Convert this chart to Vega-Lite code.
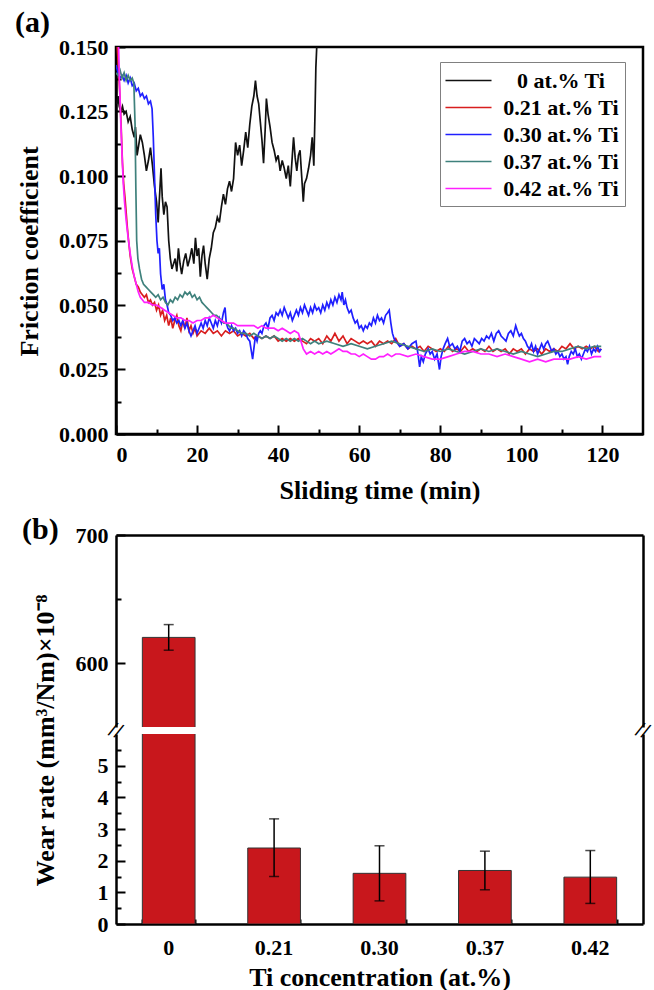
{
"$schema": "https://vega.github.io/schema/vega-lite/v6.json",
"padding": {"left": 13, "top": 6, "right": 8, "bottom": 0},
"config": {
  "font": "Liberation Serif",
  "view": {"stroke": "black", "strokeWidth": 2.5},
  "axis": {"labelFont": "Liberation Serif", "labelFontWeight": "bold", "labelFontSize": 22, "labelColor": "black",
           "titleFont": "Liberation Serif", "titleFontWeight": "bold", "titleFontSize": 26, "titleColor": "black",
           "domainColor": "black", "domainWidth": 2.5, "tickColor": "black", "tickWidth": 2, "grid": false, "zindex": 1},
  "title": {"font": "Liberation Serif", "fontWeight": "bold", "fontSize": 30, "color": "black"}
},
"datasets": {
"wear": [
 {"c": "0", "w": 620, "lo": 610, "hi": 630},
 {"c": "0.21", "w": 2.4, "lo": 1.5, "hi": 3.32},
 {"c": "0.30", "w": 1.6, "lo": 0.73, "hi": 2.47},
 {"c": "0.37", "w": 1.69, "lo": 1.08, "hi": 2.3},
 {"c": "0.42", "w": 1.48, "lo": 0.65, "hi": 2.32}
],
"fric": [
{"s":"0","t":0.2,"f":0.128},{"s":"0","t":0.5,"f":0.131},{"s":"0","t":0.8,"f":0.127},{"s":"0","t":1.2,"f":0.125},{"s":"0","t":1.6,"f":0.127},{"s":"0","t":2.0,"f":0.124},{"s":"0","t":2.5,"f":0.125},{"s":"0","t":3.0,"f":0.121},{"s":"0","t":3.5,"f":0.123},{"s":"0","t":4.0,"f":0.118},{"s":"0","t":4.5,"f":0.115},{"s":"0","t":4.8,"f":0.119},{"s":"0","t":5.2,"f":0.108},{"s":"0","t":5.6,"f":0.112},{"s":"0","t":6.0,"f":0.116},{"s":"0","t":6.5,"f":0.113},{"s":"0","t":7.0,"f":0.108},{"s":"0","t":7.5,"f":0.102},{"s":"0","t":8.0,"f":0.106},{"s":"0","t":8.5,"f":0.111},{"s":"0","t":9.0,"f":0.104},{"s":"0","t":9.5,"f":0.096},{"s":"0","t":10.0,"f":0.090},{"s":"0","t":10.4,"f":0.082},{"s":"0","t":10.8,"f":0.094},{"s":"0","t":11.1,"f":0.103},{"s":"0","t":11.4,"f":0.092},{"s":"0","t":11.8,"f":0.085},{"s":"0","t":12.2,"f":0.090},{"s":"0","t":12.6,"f":0.088},{"s":"0","t":13.0,"f":0.075},{"s":"0","t":13.4,"f":0.068},{"s":"0","t":13.8,"f":0.064},{"s":"0","t":14.2,"f":0.066},{"s":"0","t":14.6,"f":0.068},{"s":"0","t":15.0,"f":0.063},{"s":"0","t":15.4,"f":0.072},{"s":"0","t":15.8,"f":0.066},{"s":"0","t":16.2,"f":0.062},{"s":"0","t":16.7,"f":0.067},{"s":"0","t":17.2,"f":0.070},{"s":"0","t":17.7,"f":0.065},{"s":"0","t":18.2,"f":0.068},{"s":"0","t":18.7,"f":0.072},{"s":"0","t":19.2,"f":0.066},{"s":"0","t":19.6,"f":0.076},{"s":"0","t":20.0,"f":0.069},{"s":"0","t":20.4,"f":0.072},{"s":"0","t":20.8,"f":0.061},{"s":"0","t":21.2,"f":0.069},{"s":"0","t":21.6,"f":0.073},{"s":"0","t":22.0,"f":0.066},{"s":"0","t":22.5,"f":0.060},{"s":"0","t":23.0,"f":0.068},{"s":"0","t":23.5,"f":0.072},{"s":"0","t":24.0,"f":0.078},{"s":"0","t":24.5,"f":0.080},{"s":"0","t":25.0,"f":0.084},{"s":"0","t":25.5,"f":0.082},{"s":"0","t":26.0,"f":0.088},{"s":"0","t":26.5,"f":0.093},{"s":"0","t":27.0,"f":0.089},{"s":"0","t":27.5,"f":0.095},{"s":"0","t":28.0,"f":0.098},{"s":"0","t":28.5,"f":0.094},{"s":"0","t":29.0,"f":0.099},{"s":"0","t":29.5,"f":0.113},{"s":"0","t":30.0,"f":0.108},{"s":"0","t":30.5,"f":0.112},{"s":"0","t":31.0,"f":0.104},{"s":"0","t":31.5,"f":0.110},{"s":"0","t":32.0,"f":0.117},{"s":"0","t":32.5,"f":0.111},{"s":"0","t":33.0,"f":0.120},{"s":"0","t":33.5,"f":0.127},{"s":"0","t":34.0,"f":0.131},{"s":"0","t":34.4,"f":0.137},{"s":"0","t":34.8,"f":0.131},{"s":"0","t":35.2,"f":0.128},{"s":"0","t":35.6,"f":0.121},{"s":"0","t":36.0,"f":0.114},{"s":"0","t":36.4,"f":0.105},{"s":"0","t":36.8,"f":0.118},{"s":"0","t":37.1,"f":0.130},{"s":"0","t":37.5,"f":0.124},{"s":"0","t":38.0,"f":0.119},{"s":"0","t":38.5,"f":0.113},{"s":"0","t":39.0,"f":0.110},{"s":"0","t":39.5,"f":0.106},{"s":"0","t":40.0,"f":0.108},{"s":"0","t":40.5,"f":0.102},{"s":"0","t":41.0,"f":0.106},{"s":"0","t":41.5,"f":0.103},{"s":"0","t":42.0,"f":0.099},{"s":"0","t":42.5,"f":0.104},{"s":"0","t":43.0,"f":0.096},{"s":"0","t":43.5,"f":0.108},{"s":"0","t":43.8,"f":0.115},{"s":"0","t":44.2,"f":0.107},{"s":"0","t":44.6,"f":0.102},{"s":"0","t":45.0,"f":0.108},{"s":"0","t":45.4,"f":0.110},{"s":"0","t":45.8,"f":0.100},{"s":"0","t":46.2,"f":0.090},{"s":"0","t":46.5,"f":0.097},{"s":"0","t":47.0,"f":0.099},{"s":"0","t":47.5,"f":0.103},{"s":"0","t":48.0,"f":0.108},{"s":"0","t":48.4,"f":0.115},{"s":"0","t":48.8,"f":0.104},{"s":"0","t":49.1,"f":0.125},{"s":"0","t":49.3,"f":0.142},{"s":"0","t":49.6,"f":0.153},
{"s":"0.21","t":0.3,"f":0.150},{"s":"0.21","t":0.6,"f":0.142},{"s":"0.21","t":1.0,"f":0.130},{"s":"0.21","t":1.3,"f":0.118},{"s":"0.21","t":1.6,"f":0.105},{"s":"0.21","t":1.9,"f":0.097},{"s":"0.21","t":2.2,"f":0.092},{"s":"0.21","t":2.5,"f":0.086},{"s":"0.21","t":2.8,"f":0.080},{"s":"0.21","t":3.1,"f":0.075},{"s":"0.21","t":3.5,"f":0.069},{"s":"0.21","t":4.0,"f":0.064},{"s":"0.21","t":4.5,"f":0.061},{"s":"0.21","t":5.0,"f":0.058},{"s":"0.21","t":5.5,"f":0.057},{"s":"0.21","t":6.0,"f":0.055},{"s":"0.21","t":6.5,"f":0.054},{"s":"0.21","t":7.0,"f":0.053},{"s":"0.21","t":7.5,"f":0.054},{"s":"0.21","t":8.0,"f":0.051},{"s":"0.21","t":8.5,"f":0.052},{"s":"0.21","t":9.0,"f":0.050},{"s":"0.21","t":9.5,"f":0.051},{"s":"0.21","t":10.0,"f":0.048},{"s":"0.21","t":10.5,"f":0.050},{"s":"0.21","t":11.0,"f":0.046},{"s":"0.21","t":11.5,"f":0.048},{"s":"0.21","t":12.0,"f":0.044},{"s":"0.21","t":12.5,"f":0.046},{"s":"0.21","t":13.0,"f":0.042},{"s":"0.21","t":13.5,"f":0.045},{"s":"0.21","t":14.0,"f":0.041},{"s":"0.21","t":14.5,"f":0.044},{"s":"0.21","t":15.0,"f":0.046},{"s":"0.21","t":15.5,"f":0.042},{"s":"0.21","t":16.0,"f":0.040},{"s":"0.21","t":16.5,"f":0.044},{"s":"0.21","t":17.0,"f":0.041},{"s":"0.21","t":17.5,"f":0.045},{"s":"0.21","t":18.0,"f":0.040},{"s":"0.21","t":18.5,"f":0.042},{"s":"0.21","t":19.0,"f":0.039},{"s":"0.21","t":19.5,"f":0.041},{"s":"0.21","t":20.0,"f":0.038},{"s":"0.21","t":21.0,"f":0.040},{"s":"0.21","t":22.0,"f":0.039},{"s":"0.21","t":23.0,"f":0.041},{"s":"0.21","t":24.0,"f":0.039},{"s":"0.21","t":25.0,"f":0.040},{"s":"0.21","t":26.0,"f":0.038},{"s":"0.21","t":27.0,"f":0.040},{"s":"0.21","t":28.0,"f":0.039},{"s":"0.21","t":29.0,"f":0.040},{"s":"0.21","t":30.0,"f":0.038},{"s":"0.21","t":31.0,"f":0.039},{"s":"0.21","t":32.0,"f":0.038},{"s":"0.21","t":33.0,"f":0.039},{"s":"0.21","t":34.0,"f":0.037},{"s":"0.21","t":35.0,"f":0.038},{"s":"0.21","t":36.0,"f":0.037},{"s":"0.21","t":37.0,"f":0.038},{"s":"0.21","t":38.0,"f":0.037},{"s":"0.21","t":39.0,"f":0.038},{"s":"0.21","t":40.0,"f":0.036},{"s":"0.21","t":41.0,"f":0.037},{"s":"0.21","t":42.0,"f":0.036},{"s":"0.21","t":43.0,"f":0.037},{"s":"0.21","t":44.0,"f":0.036},{"s":"0.21","t":45.0,"f":0.037},{"s":"0.21","t":46.0,"f":0.036},{"s":"0.21","t":47.0,"f":0.035},{"s":"0.21","t":48.0,"f":0.037},{"s":"0.21","t":49.0,"f":0.036},{"s":"0.21","t":50.0,"f":0.037},{"s":"0.21","t":51.0,"f":0.035},{"s":"0.21","t":52.0,"f":0.038},{"s":"0.21","t":53.0,"f":0.036},{"s":"0.21","t":54.0,"f":0.039},{"s":"0.21","t":55.0,"f":0.036},{"s":"0.21","t":56.0,"f":0.038},{"s":"0.21","t":57.0,"f":0.035},{"s":"0.21","t":58.0,"f":0.037},{"s":"0.21","t":59.0,"f":0.036},{"s":"0.21","t":60.0,"f":0.035},{"s":"0.21","t":61.0,"f":0.036},{"s":"0.21","t":62.0,"f":0.035},{"s":"0.21","t":63.0,"f":0.036},{"s":"0.21","t":64.0,"f":0.034},{"s":"0.21","t":65.0,"f":0.036},{"s":"0.21","t":66.0,"f":0.035},{"s":"0.21","t":67.0,"f":0.036},{"s":"0.21","t":68.0,"f":0.035},{"s":"0.21","t":69.0,"f":0.037},{"s":"0.21","t":70.0,"f":0.034},{"s":"0.21","t":71.0,"f":0.035},{"s":"0.21","t":72.0,"f":0.033},{"s":"0.21","t":73.0,"f":0.034},{"s":"0.21","t":74.0,"f":0.033},{"s":"0.21","t":75.0,"f":0.034},{"s":"0.21","t":76.0,"f":0.032},{"s":"0.21","t":77.0,"f":0.034},{"s":"0.21","t":78.0,"f":0.033},{"s":"0.21","t":79.0,"f":0.032},{"s":"0.21","t":80.0,"f":0.033},{"s":"0.21","t":81.0,"f":0.032},{"s":"0.21","t":82.0,"f":0.034},{"s":"0.21","t":83.0,"f":0.032},{"s":"0.21","t":84.0,"f":0.033},{"s":"0.21","t":85.0,"f":0.032},{"s":"0.21","t":86.0,"f":0.034},{"s":"0.21","t":87.0,"f":0.032},{"s":"0.21","t":88.0,"f":0.033},{"s":"0.21","t":89.0,"f":0.032},{"s":"0.21","t":90.0,"f":0.033},{"s":"0.21","t":91.0,"f":0.032},{"s":"0.21","t":92.0,"f":0.034},{"s":"0.21","t":93.0,"f":0.032},{"s":"0.21","t":94.0,"f":0.033},{"s":"0.21","t":95.0,"f":0.032},{"s":"0.21","t":96.0,"f":0.033},{"s":"0.21","t":97.0,"f":0.031},{"s":"0.21","t":98.0,"f":0.033},{"s":"0.21","t":99.0,"f":0.032},{"s":"0.21","t":100.0,"f":0.033},{"s":"0.21","t":101.0,"f":0.031},{"s":"0.21","t":102.0,"f":0.033},{"s":"0.21","t":103.0,"f":0.032},{"s":"0.21","t":104.0,"f":0.033},{"s":"0.21","t":105.0,"f":0.031},{"s":"0.21","t":106.0,"f":0.033},{"s":"0.21","t":107.0,"f":0.032},{"s":"0.21","t":108.0,"f":0.033},{"s":"0.21","t":109.0,"f":0.032},{"s":"0.21","t":110.0,"f":0.034},{"s":"0.21","t":111.0,"f":0.033},{"s":"0.21","t":112.0,"f":0.035},{"s":"0.21","t":113.0,"f":0.033},{"s":"0.21","t":114.0,"f":0.034},{"s":"0.21","t":115.0,"f":0.033},{"s":"0.21","t":116.0,"f":0.034},{"s":"0.21","t":117.0,"f":0.033},{"s":"0.21","t":118.0,"f":0.034},{"s":"0.21","t":119.0,"f":0.032},{"s":"0.21","t":119.7,"f":0.033},
{"s":"0.30","t":0.0,"f":0.143},{"s":"0.30","t":0.5,"f":0.140},{"s":"0.30","t":1.0,"f":0.138},{"s":"0.30","t":1.5,"f":0.139},{"s":"0.30","t":2.0,"f":0.137},{"s":"0.30","t":2.5,"f":0.139},{"s":"0.30","t":3.0,"f":0.136},{"s":"0.30","t":3.5,"f":0.138},{"s":"0.30","t":4.0,"f":0.135},{"s":"0.30","t":4.5,"f":0.136},{"s":"0.30","t":5.0,"f":0.133},{"s":"0.30","t":5.5,"f":0.134},{"s":"0.30","t":6.0,"f":0.131},{"s":"0.30","t":6.5,"f":0.132},{"s":"0.30","t":7.0,"f":0.130},{"s":"0.30","t":7.5,"f":0.131},{"s":"0.30","t":8.0,"f":0.128},{"s":"0.30","t":8.5,"f":0.129},{"s":"0.30","t":8.9,"f":0.126},{"s":"0.30","t":9.2,"f":0.115},{"s":"0.30","t":9.5,"f":0.100},{"s":"0.30","t":9.8,"f":0.085},{"s":"0.30","t":10.1,"f":0.075},{"s":"0.30","t":10.4,"f":0.070},{"s":"0.30","t":10.7,"f":0.072},{"s":"0.30","t":11.0,"f":0.062},{"s":"0.30","t":11.4,"f":0.056},{"s":"0.30","t":11.8,"f":0.058},{"s":"0.30","t":12.2,"f":0.052},{"s":"0.30","t":12.6,"f":0.050},{"s":"0.30","t":13.0,"f":0.047},{"s":"0.30","t":13.5,"f":0.046},{"s":"0.30","t":14.0,"f":0.044},{"s":"0.30","t":14.5,"f":0.045},{"s":"0.30","t":15.0,"f":0.043},{"s":"0.30","t":15.5,"f":0.044},{"s":"0.30","t":16.0,"f":0.042},{"s":"0.30","t":16.5,"f":0.044},{"s":"0.30","t":17.0,"f":0.041},{"s":"0.30","t":17.5,"f":0.043},{"s":"0.30","t":18.0,"f":0.040},{"s":"0.30","t":18.5,"f":0.038},{"s":"0.30","t":19.0,"f":0.040},{"s":"0.30","t":19.5,"f":0.042},{"s":"0.30","t":20.0,"f":0.039},{"s":"0.30","t":20.5,"f":0.041},{"s":"0.30","t":21.0,"f":0.043},{"s":"0.30","t":21.5,"f":0.041},{"s":"0.30","t":22.0,"f":0.044},{"s":"0.30","t":22.5,"f":0.042},{"s":"0.30","t":23.0,"f":0.045},{"s":"0.30","t":23.5,"f":0.043},{"s":"0.30","t":24.0,"f":0.041},{"s":"0.30","t":24.5,"f":0.044},{"s":"0.30","t":25.0,"f":0.042},{"s":"0.30","t":25.5,"f":0.045},{"s":"0.30","t":26.0,"f":0.043},{"s":"0.30","t":26.5,"f":0.047},{"s":"0.30","t":26.9,"f":0.049},{"s":"0.30","t":27.2,"f":0.043},{"s":"0.30","t":27.6,"f":0.041},{"s":"0.30","t":28.0,"f":0.040},{"s":"0.30","t":28.5,"f":0.042},{"s":"0.30","t":29.0,"f":0.040},{"s":"0.30","t":29.5,"f":0.041},{"s":"0.30","t":30.0,"f":0.039},{"s":"0.30","t":30.5,"f":0.040},{"s":"0.30","t":31.0,"f":0.038},{"s":"0.30","t":31.5,"f":0.040},{"s":"0.30","t":32.0,"f":0.039},{"s":"0.30","t":32.5,"f":0.037},{"s":"0.30","t":33.0,"f":0.036},{"s":"0.30","t":33.4,"f":0.032},{"s":"0.30","t":33.7,"f":0.029},{"s":"0.30","t":34.0,"f":0.033},{"s":"0.30","t":34.4,"f":0.038},{"s":"0.30","t":34.8,"f":0.036},{"s":"0.30","t":35.2,"f":0.039},{"s":"0.30","t":35.6,"f":0.040},{"s":"0.30","t":36.0,"f":0.039},{"s":"0.30","t":36.5,"f":0.042},{"s":"0.30","t":37.0,"f":0.043},{"s":"0.30","t":37.5,"f":0.041},{"s":"0.30","t":38.0,"f":0.045},{"s":"0.30","t":38.5,"f":0.046},{"s":"0.30","t":39.0,"f":0.044},{"s":"0.30","t":39.5,"f":0.047},{"s":"0.30","t":40.0,"f":0.046},{"s":"0.30","t":40.5,"f":0.048},{"s":"0.30","t":41.0,"f":0.046},{"s":"0.30","t":41.5,"f":0.049},{"s":"0.30","t":42.0,"f":0.047},{"s":"0.30","t":42.5,"f":0.045},{"s":"0.30","t":43.0,"f":0.047},{"s":"0.30","t":43.5,"f":0.044},{"s":"0.30","t":44.0,"f":0.046},{"s":"0.30","t":44.5,"f":0.048},{"s":"0.30","t":45.0,"f":0.046},{"s":"0.30","t":45.5,"f":0.049},{"s":"0.30","t":46.0,"f":0.047},{"s":"0.30","t":46.5,"f":0.050},{"s":"0.30","t":47.0,"f":0.048},{"s":"0.30","t":47.5,"f":0.046},{"s":"0.30","t":48.0,"f":0.049},{"s":"0.30","t":48.5,"f":0.047},{"s":"0.30","t":49.0,"f":0.050},{"s":"0.30","t":49.5,"f":0.048},{"s":"0.30","t":50.0,"f":0.049},{"s":"0.30","t":50.5,"f":0.047},{"s":"0.30","t":51.0,"f":0.050},{"s":"0.30","t":51.5,"f":0.048},{"s":"0.30","t":52.0,"f":0.051},{"s":"0.30","t":52.5,"f":0.049},{"s":"0.30","t":53.0,"f":0.052},{"s":"0.30","t":53.5,"f":0.050},{"s":"0.30","t":54.0,"f":0.053},{"s":"0.30","t":54.5,"f":0.051},{"s":"0.30","t":55.0,"f":0.054},{"s":"0.30","t":55.5,"f":0.052},{"s":"0.30","t":55.8,"f":0.055},{"s":"0.30","t":56.2,"f":0.050},{"s":"0.30","t":56.6,"f":0.052},{"s":"0.30","t":57.0,"f":0.049},{"s":"0.30","t":57.5,"f":0.047},{"s":"0.30","t":58.0,"f":0.048},{"s":"0.30","t":58.5,"f":0.045},{"s":"0.30","t":59.0,"f":0.043},{"s":"0.30","t":59.5,"f":0.044},{"s":"0.30","t":60.0,"f":0.041},{"s":"0.30","t":60.5,"f":0.042},{"s":"0.30","t":61.0,"f":0.040},{"s":"0.30","t":61.5,"f":0.042},{"s":"0.30","t":62.0,"f":0.041},{"s":"0.30","t":62.5,"f":0.043},{"s":"0.30","t":63.0,"f":0.042},{"s":"0.30","t":63.5,"f":0.045},{"s":"0.30","t":64.0,"f":0.043},{"s":"0.30","t":64.5,"f":0.046},{"s":"0.30","t":65.0,"f":0.044},{"s":"0.30","t":65.5,"f":0.045},{"s":"0.30","t":66.0,"f":0.043},{"s":"0.30","t":66.5,"f":0.046},{"s":"0.30","t":67.0,"f":0.047},{"s":"0.30","t":67.4,"f":0.048},{"s":"0.30","t":67.8,"f":0.043},{"s":"0.30","t":68.2,"f":0.039},{"s":"0.30","t":68.6,"f":0.037},{"s":"0.30","t":69.0,"f":0.036},{"s":"0.30","t":69.5,"f":0.035},{"s":"0.30","t":70.0,"f":0.034},{"s":"0.30","t":71.0,"f":0.035},{"s":"0.30","t":72.0,"f":0.033},{"s":"0.30","t":73.0,"f":0.035},{"s":"0.30","t":74.0,"f":0.036},{"s":"0.30","t":74.5,"f":0.031},{"s":"0.30","t":74.9,"f":0.026},{"s":"0.30","t":75.3,"f":0.030},{"s":"0.30","t":75.8,"f":0.028},{"s":"0.30","t":76.3,"f":0.031},{"s":"0.30","t":77.0,"f":0.033},{"s":"0.30","t":77.5,"f":0.031},{"s":"0.30","t":78.0,"f":0.032},{"s":"0.30","t":78.6,"f":0.029},{"s":"0.30","t":79.2,"f":0.031},{"s":"0.30","t":79.8,"f":0.025},{"s":"0.30","t":80.2,"f":0.030},{"s":"0.30","t":80.7,"f":0.033},{"s":"0.30","t":81.2,"f":0.035},{"s":"0.30","t":81.8,"f":0.037},{"s":"0.30","t":82.3,"f":0.034},{"s":"0.30","t":83.0,"f":0.035},{"s":"0.30","t":83.6,"f":0.033},{"s":"0.30","t":84.2,"f":0.034},{"s":"0.30","t":84.8,"f":0.032},{"s":"0.30","t":85.4,"f":0.036},{"s":"0.30","t":86.0,"f":0.037},{"s":"0.30","t":86.6,"f":0.035},{"s":"0.30","t":87.2,"f":0.036},{"s":"0.30","t":87.8,"f":0.034},{"s":"0.30","t":88.4,"f":0.037},{"s":"0.30","t":89.0,"f":0.036},{"s":"0.30","t":89.6,"f":0.035},{"s":"0.30","t":90.2,"f":0.037},{"s":"0.30","t":90.8,"f":0.036},{"s":"0.30","t":91.4,"f":0.038},{"s":"0.30","t":92.0,"f":0.037},{"s":"0.30","t":92.6,"f":0.039},{"s":"0.30","t":93.2,"f":0.036},{"s":"0.30","t":93.8,"f":0.039},{"s":"0.30","t":94.4,"f":0.040},{"s":"0.30","t":95.0,"f":0.038},{"s":"0.30","t":95.6,"f":0.037},{"s":"0.30","t":96.2,"f":0.036},{"s":"0.30","t":96.8,"f":0.039},{"s":"0.30","t":97.4,"f":0.040},{"s":"0.30","t":98.0,"f":0.038},{"s":"0.30","t":98.6,"f":0.042},{"s":"0.30","t":99.0,"f":0.040},{"s":"0.30","t":99.5,"f":0.038},{"s":"0.30","t":100.0,"f":0.039},{"s":"0.30","t":100.5,"f":0.037},{"s":"0.30","t":101.0,"f":0.036},{"s":"0.30","t":101.5,"f":0.034},{"s":"0.30","t":102.0,"f":0.033},{"s":"0.30","t":102.5,"f":0.035},{"s":"0.30","t":103.0,"f":0.032},{"s":"0.30","t":103.5,"f":0.034},{"s":"0.30","t":104.0,"f":0.031},{"s":"0.30","t":104.5,"f":0.033},{"s":"0.30","t":105.0,"f":0.035},{"s":"0.30","t":105.5,"f":0.033},{"s":"0.30","t":106.0,"f":0.035},{"s":"0.30","t":106.5,"f":0.036},{"s":"0.30","t":107.0,"f":0.034},{"s":"0.30","t":107.5,"f":0.032},{"s":"0.30","t":108.0,"f":0.033},{"s":"0.30","t":108.5,"f":0.031},{"s":"0.30","t":109.0,"f":0.032},{"s":"0.30","t":109.5,"f":0.030},{"s":"0.30","t":110.0,"f":0.031},{"s":"0.30","t":110.5,"f":0.029},{"s":"0.30","t":111.0,"f":0.030},{"s":"0.30","t":111.4,"f":0.027},{"s":"0.30","t":111.8,"f":0.030},{"s":"0.30","t":112.3,"f":0.032},{"s":"0.30","t":112.8,"f":0.031},{"s":"0.30","t":113.3,"f":0.033},{"s":"0.30","t":113.8,"f":0.030},{"s":"0.30","t":114.3,"f":0.031},{"s":"0.30","t":114.8,"f":0.029},{"s":"0.30","t":115.3,"f":0.031},{"s":"0.30","t":115.8,"f":0.033},{"s":"0.30","t":116.3,"f":0.032},{"s":"0.30","t":116.8,"f":0.034},{"s":"0.30","t":117.3,"f":0.031},{"s":"0.30","t":117.8,"f":0.033},{"s":"0.30","t":118.3,"f":0.032},{"s":"0.30","t":118.8,"f":0.034},{"s":"0.30","t":119.3,"f":0.032},{"s":"0.30","t":119.7,"f":0.033},
{"s":"0.37","t":0.0,"f":0.140},{"s":"0.37","t":0.5,"f":0.139},{"s":"0.37","t":1.0,"f":0.141},{"s":"0.37","t":1.5,"f":0.138},{"s":"0.37","t":2.0,"f":0.140},{"s":"0.37","t":2.5,"f":0.137},{"s":"0.37","t":3.0,"f":0.139},{"s":"0.37","t":3.5,"f":0.137},{"s":"0.37","t":4.0,"f":0.138},{"s":"0.37","t":4.4,"f":0.136},{"s":"0.37","t":4.7,"f":0.120},{"s":"0.37","t":4.9,"f":0.095},{"s":"0.37","t":5.1,"f":0.075},{"s":"0.37","t":5.4,"f":0.068},{"s":"0.37","t":5.8,"f":0.064},{"s":"0.37","t":6.3,"f":0.060},{"s":"0.37","t":6.8,"f":0.058},{"s":"0.37","t":7.4,"f":0.057},{"s":"0.37","t":8.0,"f":0.056},{"s":"0.37","t":8.6,"f":0.055},{"s":"0.37","t":9.2,"f":0.054},{"s":"0.37","t":9.8,"f":0.053},{"s":"0.37","t":10.4,"f":0.054},{"s":"0.37","t":11.0,"f":0.052},{"s":"0.37","t":11.6,"f":0.053},{"s":"0.37","t":12.2,"f":0.051},{"s":"0.37","t":12.8,"f":0.050},{"s":"0.37","t":13.4,"f":0.052},{"s":"0.37","t":14.0,"f":0.051},{"s":"0.37","t":14.6,"f":0.053},{"s":"0.37","t":15.2,"f":0.052},{"s":"0.37","t":15.8,"f":0.054},{"s":"0.37","t":16.4,"f":0.053},{"s":"0.37","t":17.0,"f":0.055},{"s":"0.37","t":17.6,"f":0.054},{"s":"0.37","t":18.2,"f":0.055},{"s":"0.37","t":18.8,"f":0.053},{"s":"0.37","t":19.4,"f":0.054},{"s":"0.37","t":20.0,"f":0.052},{"s":"0.37","t":20.6,"f":0.053},{"s":"0.37","t":21.2,"f":0.051},{"s":"0.37","t":21.8,"f":0.050},{"s":"0.37","t":22.4,"f":0.049},{"s":"0.37","t":23.0,"f":0.048},{"s":"0.37","t":23.6,"f":0.047},{"s":"0.37","t":24.2,"f":0.046},{"s":"0.37","t":24.8,"f":0.046},{"s":"0.37","t":25.4,"f":0.045},{"s":"0.37","t":26.0,"f":0.044},{"s":"0.37","t":26.6,"f":0.043},{"s":"0.37","t":27.2,"f":0.043},{"s":"0.37","t":27.8,"f":0.042},{"s":"0.37","t":28.4,"f":0.041},{"s":"0.37","t":29.0,"f":0.041},{"s":"0.37","t":30.0,"f":0.040},{"s":"0.37","t":31.0,"f":0.039},{"s":"0.37","t":32.0,"f":0.039},{"s":"0.37","t":33.0,"f":0.038},{"s":"0.37","t":34.0,"f":0.039},{"s":"0.37","t":35.0,"f":0.038},{"s":"0.37","t":36.0,"f":0.037},{"s":"0.37","t":37.0,"f":0.038},{"s":"0.37","t":38.0,"f":0.037},{"s":"0.37","t":39.0,"f":0.038},{"s":"0.37","t":40.0,"f":0.037},{"s":"0.37","t":41.0,"f":0.036},{"s":"0.37","t":42.0,"f":0.037},{"s":"0.37","t":43.0,"f":0.036},{"s":"0.37","t":44.0,"f":0.037},{"s":"0.37","t":45.0,"f":0.036},{"s":"0.37","t":46.0,"f":0.037},{"s":"0.37","t":47.0,"f":0.036},{"s":"0.37","t":48.0,"f":0.035},{"s":"0.37","t":49.0,"f":0.036},{"s":"0.37","t":50.0,"f":0.035},{"s":"0.37","t":52.0,"f":0.036},{"s":"0.37","t":54.0,"f":0.035},{"s":"0.37","t":56.0,"f":0.034},{"s":"0.37","t":58.0,"f":0.035},{"s":"0.37","t":60.0,"f":0.034},{"s":"0.37","t":62.0,"f":0.033},{"s":"0.37","t":64.0,"f":0.034},{"s":"0.37","t":66.0,"f":0.035},{"s":"0.37","t":68.0,"f":0.036},{"s":"0.37","t":70.0,"f":0.035},{"s":"0.37","t":72.0,"f":0.034},{"s":"0.37","t":74.0,"f":0.033},{"s":"0.37","t":76.0,"f":0.032},{"s":"0.37","t":78.0,"f":0.033},{"s":"0.37","t":80.0,"f":0.032},{"s":"0.37","t":82.0,"f":0.033},{"s":"0.37","t":84.0,"f":0.032},{"s":"0.37","t":86.0,"f":0.031},{"s":"0.37","t":88.0,"f":0.032},{"s":"0.37","t":90.0,"f":0.033},{"s":"0.37","t":92.0,"f":0.032},{"s":"0.37","t":94.0,"f":0.033},{"s":"0.37","t":96.0,"f":0.032},{"s":"0.37","t":98.0,"f":0.031},{"s":"0.37","t":100.0,"f":0.032},{"s":"0.37","t":102.0,"f":0.031},{"s":"0.37","t":104.0,"f":0.030},{"s":"0.37","t":106.0,"f":0.031},{"s":"0.37","t":108.0,"f":0.032},{"s":"0.37","t":110.0,"f":0.032},{"s":"0.37","t":112.0,"f":0.033},{"s":"0.37","t":114.0,"f":0.034},{"s":"0.37","t":116.0,"f":0.033},{"s":"0.37","t":118.0,"f":0.034},{"s":"0.37","t":119.7,"f":0.034},
{"s":"0.42","t":0.6,"f":0.152},{"s":"0.42","t":0.9,"f":0.135},{"s":"0.42","t":1.2,"f":0.120},{"s":"0.42","t":1.5,"f":0.108},{"s":"0.42","t":1.8,"f":0.097},{"s":"0.42","t":2.1,"f":0.090},{"s":"0.42","t":2.5,"f":0.083},{"s":"0.42","t":3.0,"f":0.076},{"s":"0.42","t":3.5,"f":0.070},{"s":"0.42","t":4.0,"f":0.065},{"s":"0.42","t":4.5,"f":0.061},{"s":"0.42","t":5.0,"f":0.058},{"s":"0.42","t":5.5,"f":0.055},{"s":"0.42","t":6.0,"f":0.053},{"s":"0.42","t":6.5,"f":0.052},{"s":"0.42","t":7.0,"f":0.051},{"s":"0.42","t":8.0,"f":0.051},{"s":"0.42","t":9.0,"f":0.050},{"s":"0.42","t":10.0,"f":0.050},{"s":"0.42","t":11.0,"f":0.049},{"s":"0.42","t":12.0,"f":0.048},{"s":"0.42","t":13.0,"f":0.047},{"s":"0.42","t":14.0,"f":0.046},{"s":"0.42","t":15.0,"f":0.045},{"s":"0.42","t":16.0,"f":0.045},{"s":"0.42","t":17.0,"f":0.044},{"s":"0.42","t":18.0,"f":0.044},{"s":"0.42","t":19.0,"f":0.043},{"s":"0.42","t":20.0,"f":0.044},{"s":"0.42","t":21.0,"f":0.044},{"s":"0.42","t":22.0,"f":0.045},{"s":"0.42","t":23.0,"f":0.045},{"s":"0.42","t":24.0,"f":0.046},{"s":"0.42","t":25.0,"f":0.045},{"s":"0.42","t":26.0,"f":0.044},{"s":"0.42","t":27.0,"f":0.043},{"s":"0.42","t":28.0,"f":0.043},{"s":"0.42","t":29.0,"f":0.043},{"s":"0.42","t":30.0,"f":0.042},{"s":"0.42","t":31.0,"f":0.042},{"s":"0.42","t":32.0,"f":0.042},{"s":"0.42","t":33.0,"f":0.042},{"s":"0.42","t":34.0,"f":0.042},{"s":"0.42","t":35.0,"f":0.041},{"s":"0.42","t":36.0,"f":0.042},{"s":"0.42","t":37.0,"f":0.041},{"s":"0.42","t":38.0,"f":0.041},{"s":"0.42","t":39.0,"f":0.041},{"s":"0.42","t":40.0,"f":0.040},{"s":"0.42","t":41.0,"f":0.041},{"s":"0.42","t":42.0,"f":0.040},{"s":"0.42","t":43.0,"f":0.039},{"s":"0.42","t":44.0,"f":0.040},{"s":"0.42","t":45.0,"f":0.039},{"s":"0.42","t":45.6,"f":0.036},{"s":"0.42","t":46.2,"f":0.033},{"s":"0.42","t":47.0,"f":0.031},{"s":"0.42","t":48.0,"f":0.032},{"s":"0.42","t":49.0,"f":0.031},{"s":"0.42","t":50.0,"f":0.032},{"s":"0.42","t":51.0,"f":0.031},{"s":"0.42","t":52.0,"f":0.032},{"s":"0.42","t":53.0,"f":0.031},{"s":"0.42","t":54.0,"f":0.032},{"s":"0.42","t":55.0,"f":0.033},{"s":"0.42","t":56.0,"f":0.032},{"s":"0.42","t":57.0,"f":0.032},{"s":"0.42","t":58.0,"f":0.031},{"s":"0.42","t":59.0,"f":0.031},{"s":"0.42","t":60.0,"f":0.030},{"s":"0.42","t":61.0,"f":0.031},{"s":"0.42","t":62.0,"f":0.030},{"s":"0.42","t":63.0,"f":0.029},{"s":"0.42","t":64.0,"f":0.029},{"s":"0.42","t":65.0,"f":0.030},{"s":"0.42","t":66.0,"f":0.030},{"s":"0.42","t":67.0,"f":0.031},{"s":"0.42","t":68.0,"f":0.030},{"s":"0.42","t":69.0,"f":0.031},{"s":"0.42","t":70.0,"f":0.031},{"s":"0.42","t":72.0,"f":0.030},{"s":"0.42","t":74.0,"f":0.031},{"s":"0.42","t":76.0,"f":0.030},{"s":"0.42","t":78.0,"f":0.029},{"s":"0.42","t":80.0,"f":0.029},{"s":"0.42","t":82.0,"f":0.030},{"s":"0.42","t":84.0,"f":0.031},{"s":"0.42","t":86.0,"f":0.032},{"s":"0.42","t":88.0,"f":0.032},{"s":"0.42","t":90.0,"f":0.031},{"s":"0.42","t":92.0,"f":0.031},{"s":"0.42","t":94.0,"f":0.030},{"s":"0.42","t":96.0,"f":0.031},{"s":"0.42","t":98.0,"f":0.030},{"s":"0.42","t":100.0,"f":0.029},{"s":"0.42","t":102.0,"f":0.028},{"s":"0.42","t":104.0,"f":0.029},{"s":"0.42","t":106.0,"f":0.028},{"s":"0.42","t":108.0,"f":0.029},{"s":"0.42","t":110.0,"f":0.029},{"s":"0.42","t":112.0,"f":0.029},{"s":"0.42","t":114.0,"f":0.030},{"s":"0.42","t":116.0,"f":0.029},{"s":"0.42","t":118.0,"f":0.030},{"s":"0.42","t":119.7,"f":0.030}
]
},
"bounds": "flush",
"spacing": 101,
"vconcat": [
{
  "width": 527, "height": 387,
  "title": {"text": "(a)", "anchor": "start", "frame": "group", "baseline": "middle", "offset": 0, "dx": -101, "dy": 17},
  "data": {"name": "fric"},
  "mark": {"type": "line", "strokeWidth": 1.7, "clip": true},
  "encoding": {
    "x": {"field": "t", "type": "quantitative",
          "scale": {"domain": [0, 130], "nice": false, "zero": false},
          "axis": {"values": [0,10,20,30,40,50,60,70,80,90,100,110,120],
                   "labelExpr": "datum.value % 20 === 0 ? format(datum.value, 'd') : ''",
                   "tickSize": {"condition": {"test": "datum.value % 20 === 0", "value": -9}, "value": -5},
                   "labelPadding": 19, "title": "Sliding time (min)", "titlePadding": 12}},
    "y": {"field": "f", "type": "quantitative",
          "scale": {"domain": [0, 0.15], "nice": false, "zero": false},
          "axis": {"values": [0,0.0125,0.025,0.0375,0.05,0.0625,0.075,0.0875,0.1,0.1125,0.125,0.1375,0.15],
                   "labelExpr": "round(datum.value*10000) % 250 === 0 ? format(datum.value, '.3f') : ''",
                   "tickSize": {"condition": {"test": "round(datum.value*10000) % 250 === 0", "value": -9}, "value": -5},
                   "labelPadding": 17, "title": "Friction coefficient", "titlePadding": 16, "titleY": 204}},
    "color": {"field": "s", "type": "nominal",
              "scale": {"domain": ["0", "0.21", "0.30", "0.37", "0.42"],
                        "range": ["#111111", "#d81e1e", "#2020ff", "#3f817c", "#ff20ff"]},
              "legend": {"orient": "none", "legendX": 324, "legendY": 15, "title": null,
                         "labelExpr": "datum.label + ' at.% Ti'",
                         "symbolType": "M-2,0H2", "symbolSize": 530, "symbolStrokeWidth": 1.5, "symbolOffset": 10,
                         "labelFont": "Liberation Serif", "labelFontWeight": "bold", "labelFontSize": 22, "labelColor": "black",
                         "labelAlign": "center", "labelOffset": 80,
                         "strokeColor": "#808080", "fillColor": "white", "padding": 6, "rowPadding": 3}}
  }
},
{
  "bounds": "flush",
  "spacing": 7,
  "vconcat": [
  {
    "width": 527, "height": 192,
    "view": {"stroke": null},
    "title": {"text": "(b)", "anchor": "start", "frame": "group", "baseline": "middle", "offset": 0, "dx": -94, "dy": 36},
    "data": {"name": "wear"},
    "layer": [
      {"mark": {"type": "bar", "color": "#c8171c", "stroke": "#333333", "strokeWidth": 1, "clip": true},
       "encoding": {
         "x": {"field": "c", "type": "nominal", "sort": null,
               "scale": {"domain": ["0", "0.21", "0.30", "0.37", "0.42"], "paddingInner": 0.5, "paddingOuter": 0.25},
               "axis": {"orient": "top", "labels": false, "ticks": false, "title": null}},
         "y": {"field": "w", "type": "quantitative",
               "scale": {"domain": [550, 700], "nice": false, "zero": false},
               "axis": {"values": [600, 650, 700],
                        "labelExpr": "datum.value === 650 ? '' : format(datum.value, 'd')",
                        "tickSize": {"condition": {"test": "datum.value === 650", "value": -5}, "value": -9},
                        "labelPadding": 17, "title": null}}
       }},
      {"transform": [{"filter": "datum.c === '0'"}],
       "mark": {"type": "errorbar", "ticks": {"size": 10, "thickness": 1.5}, "rule": {"strokeWidth": 1.5}, "color": "black"},
       "encoding": {
         "x": {"field": "c", "type": "nominal", "sort": null,
               "scale": {"domain": ["0", "0.21", "0.30", "0.37", "0.42"], "paddingInner": 0.5, "paddingOuter": 0.25}},
         "y": {"field": "lo", "type": "quantitative",
               "scale": {"domain": [550, 700], "nice": false, "zero": false},
               "axis": {"orient": "right", "labels": false, "ticks": false, "title": null}},
         "y2": {"field": "hi"}
       }}
    ],
    "resolve": {"axis": {"y": "independent"}}
  },
  {
    "width": 527, "height": 190,
    "view": {"stroke": null},
    "layer": [
      {"data": {"name": "wear"},
       "mark": {"type": "bar", "color": "#c8171c", "stroke": "#333333", "strokeWidth": 1, "clip": true},
       "encoding": {
         "x": {"field": "c", "type": "nominal", "sort": null,
               "scale": {"domain": ["0", "0.21", "0.30", "0.37", "0.42"], "paddingInner": 0.5, "paddingOuter": 0.25},
               "axis": {"orient": "bottom", "labelAngle": 0, "tickSize": -8, "labelPadding": 21,
                        "title": "Ti concentration (at.%)", "titlePadding": 6}},
         "y": {"field": "w", "type": "quantitative",
               "scale": {"domain": [0, 6], "nice": false, "zero": true},
               "axis": {"values": [0,0.5,1,1.5,2,2.5,3,3.5,4,4.5,5,5.5],
                        "labelExpr": "datum.value % 1 === 0 ? format(datum.value, 'd') : ''",
                        "tickSize": {"condition": {"test": "datum.value % 1 === 0", "value": -9}, "value": -5},
                        "labelPadding": 17,
                        "title": "Wear rate (mm³/Nm)×10⁻⁸", "titleX": -58, "titleY": 6}}
       }},
      {"data": {"name": "wear"},
       "transform": [{"filter": "datum.c !== '0'"}],
       "mark": {"type": "errorbar", "ticks": {"size": 10, "thickness": 1.5}, "rule": {"strokeWidth": 1.5}, "color": "black"},
       "encoding": {
         "x": {"field": "c", "type": "nominal", "sort": null,
               "scale": {"domain": ["0", "0.21", "0.30", "0.37", "0.42"], "paddingInner": 0.5, "paddingOuter": 0.25},
               "axis": {"orient": "bottom", "tickBand": "extent", "labels": false, "domain": false, "tickSize": -5, "title": null}},
         "y": {"field": "lo", "type": "quantitative",
               "scale": {"domain": [0, 6], "nice": false, "zero": true},
               "axis": {"orient": "right", "labels": false, "ticks": false, "title": null}},
         "y2": {"field": "hi"}
       }},
      {"data": {"values": [{"bx": 0, "by": 6.12}, {"bx": 1, "by": 6.12}]},
       "mark": {"type": "text", "text": "//", "font": "Liberation Serif", "fontWeight": "bold", "fontSize": 22, "angle": 20, "color": "black", "baseline": "middle", "align": "center"},
       "encoding": {
         "x": {"field": "bx", "type": "quantitative", "scale": {"domain": [0, 1], "nice": false, "zero": false}, "axis": null},
         "y": {"field": "by", "type": "quantitative", "scale": {"domain": [0, 6], "nice": false, "zero": true}, "axis": null}
       }}
    ],
    "resolve": {"scale": {"x": "independent"}, "axis": {"x": "independent", "y": "independent"}}
  }
  ]
}
]
}
